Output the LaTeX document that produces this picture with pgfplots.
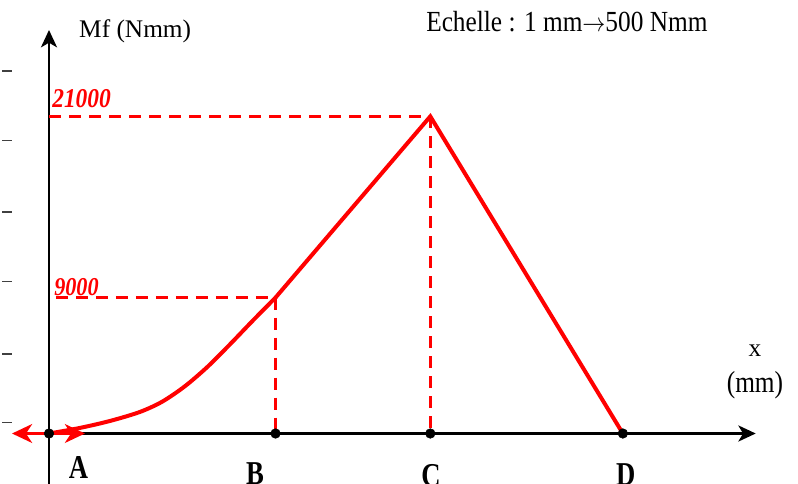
\documentclass[border=0pt]{standalone}
\usepackage{pgfplots}
\pgfplotsset{compat=1.18}
\usetikzlibrary{arrows.meta}
\usepackage{fontspec}
\setmainfont{Liberation Serif}

% 1 px of the reference = 0.75pt ; x in mm, y in Nmm (1 mm -> 500 Nmm)
\begin{document}
\begin{tikzpicture}
\useasboundingbox (0,0) rectangle (598.5pt,363pt);
\clip (0,0) rectangle (598.5pt,363pt);
\begin{axis}[
    at={(0,0)}, anchor=south west,
    scale only axis,
    width=598.5pt, height=363pt,
    axis lines=none,
    xmin=-6.49, xmax=99.2,
    ymin=-3344, ymax=28709,
    clip=false,
]
    % axes
    \draw[black, line width=2pt, -{Stealth[length=13pt,width=12pt,inset=3.5pt]}]
        (axis cs:0,-3400) -- (axis cs:0,26722);
    \draw[black, line width=2pt, -{Stealth[length=13pt,width=12pt,inset=3.5pt]}]
        (axis cs:0,0) -- (axis cs:93.6,0);

    % little marks on the left edge
    \pgfplotsinvokeforeach{24013,19408,14671,10066,5263,724}{
        \draw[black!75, line width=1.3pt] (axis cs:-6.2,#1) -- (axis cs:-4.9,#1);
    }

    % dashed guides
    \addplot[red, line width=2.2pt, dash pattern=on 9pt off 6pt] coordinates {(0,21000) (50.5,21000)};
    \addplot[red, line width=2.2pt, dash pattern=on 9pt off 6pt] coordinates {(50.5,21000) (50.5,0)};
    \addplot[red, line width=2.2pt, dash pattern=on 9pt off 6pt] coordinates {(0.9,9000) (30,9000)};
    \addplot[red, line width=2.2pt, dash pattern=on 9pt off 6pt] coordinates {(30,9000) (30,0)};

    % bending moment
    \addplot[red, line width=3pt, smooth, tension=0.5, line cap=round] coordinates {
        (0,0) (4,360) (8,820) (12,1420) (15,2110) (18,3130)
        (21,4420) (24,5920) (27,7480) (30,9000)
    };
    \addplot[red, line width=3pt, line cap=round] coordinates {(30,9000) (50.5,21000) (76,0)};

    % double arrow at A
    \addplot[red, line width=2.6pt, {Stealth[length=15pt,width=14pt,inset=4.5pt]}-{Stealth[length=15pt,width=14pt,inset=4.5pt]}]
        coordinates {(-4.9,0) (4.77,0)};

    % points
    \addplot[only marks, mark=*, black, mark size=3.6pt] coordinates {(0,0) (30,0) (50.5,0) (76,0)};

    % texts
    \node[anchor=base west, inner sep=0pt] at (axis cs:3.97,26192)
        {\fontsize{19pt}{22pt}\selectfont Mf (Nmm)};
    \node[anchor=base west, inner sep=0pt] at (axis cs:49.93,26589)
        {\scalebox{1}[1.15]{\fontsize{19pt}{22pt}\selectfont Echelle : 1 mm$\rightarrow$500 Nmm}};
    \node[anchor=base, inner sep=0pt] at (axis cs:93.5,5132)
        {\fontsize{19pt}{22pt}\selectfont x};
    \node[anchor=base, inner sep=0pt] at (axis cs:93.5,2748)
        {\scalebox{1}[1.2]{\fontsize{19pt}{22pt}\selectfont (mm)}};

    \node[anchor=base west, inner sep=0pt, text=red] at (axis cs:0.4,21556)
        {\scalebox{0.95}[1.1]{\fontsize{18.5pt}{22pt}\selectfont\bfseries\itshape 21000}};
    \node[anchor=base west, inner sep=0pt, text=red] at (axis cs:0.66,9172)
        {\scalebox{0.95}[1.1]{\fontsize{17.5pt}{20pt}\selectfont\bfseries\itshape 9000}};

    \node[anchor=base, inner sep=0pt] at (axis cs:3.9,-2947)
        {\scalebox{1}[1.25]{\fontsize{20pt}{24pt}\selectfont\bfseries A}};
    \node[anchor=base, inner sep=0pt] at (axis cs:27.3,-3410)
        {\scalebox{1}[1.25]{\fontsize{20pt}{24pt}\selectfont\bfseries B}};
    \node[anchor=base, inner sep=0pt] at (axis cs:50.6,-3540)
        {\scalebox{1}[1.25]{\fontsize{20pt}{24pt}\selectfont\bfseries C}};
    \node[anchor=base, inner sep=0pt] at (axis cs:76.4,-3475)
        {\scalebox{1}[1.25]{\fontsize{20pt}{24pt}\selectfont\bfseries D}};
\end{axis}
\end{tikzpicture}
\end{document}
